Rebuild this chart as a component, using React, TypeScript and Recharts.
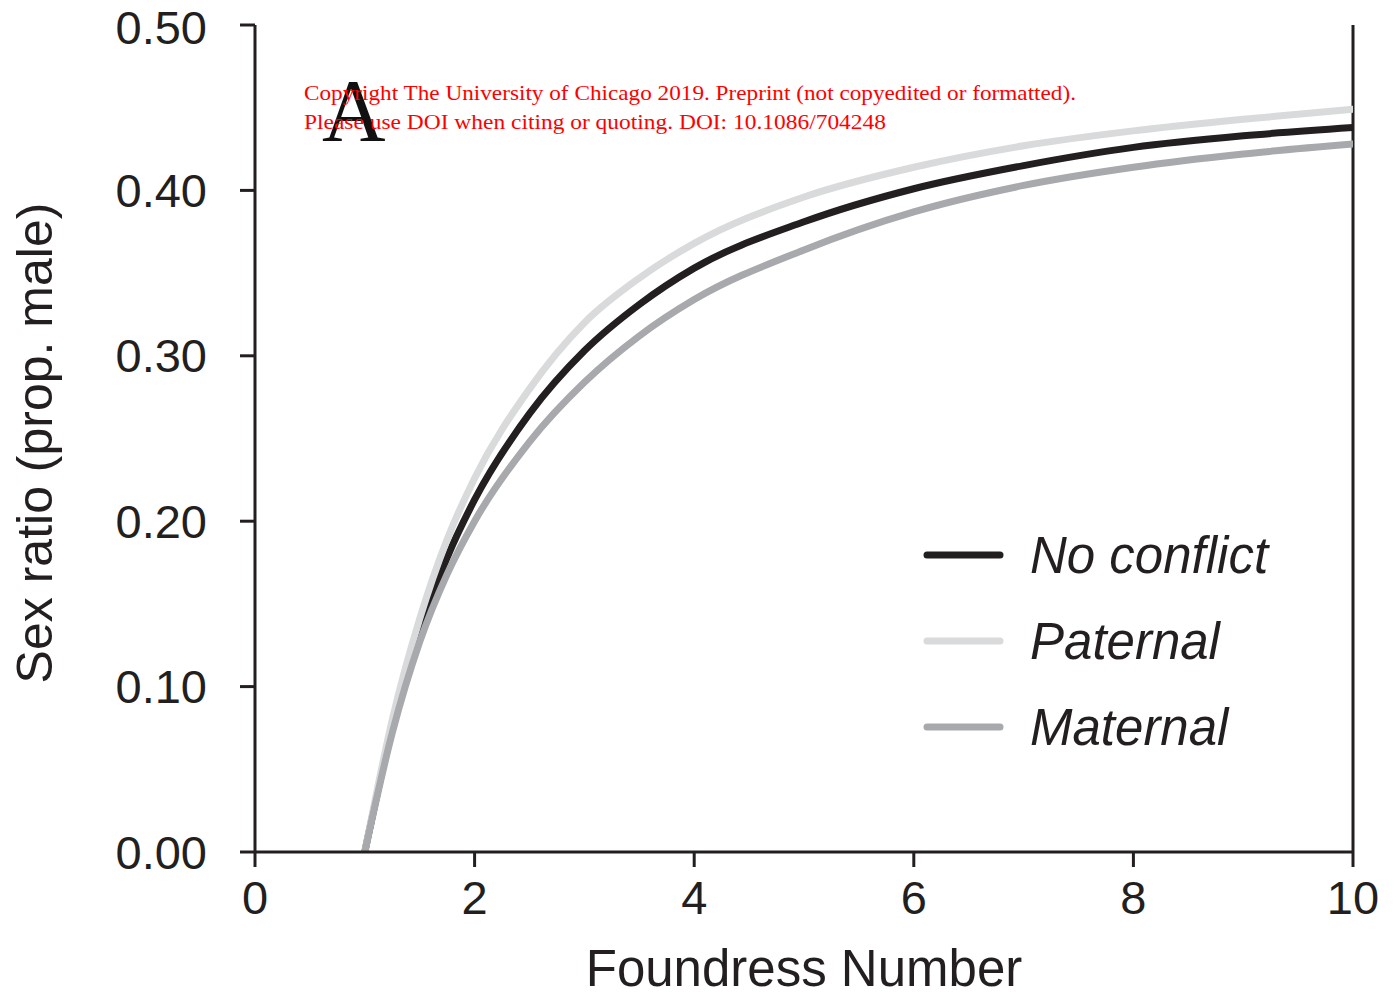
import React from 'react';
import {
  LineChart,
  Line,
  XAxis,
  YAxis,
  ReferenceLine,
  Customized,
} from 'recharts';

// foundress number (x) and the three sex-ratio curves
const foundress = [1, 1.25, 1.5, 1.75, 2, 2.5, 3, 3.5, 4, 5, 6, 7, 8, 9, 10];
const noConflict = [0, 0.075, 0.133, 0.178, 0.213, 0.265, 0.303, 0.331, 0.353, 0.381, 0.401, 0.415, 0.426, 0.433, 0.438];
const paternal = [0, 0.08, 0.141, 0.189, 0.226, 0.28, 0.32, 0.347, 0.368, 0.396, 0.414, 0.427, 0.436, 0.443, 0.449];
const maternal = [0, 0.072, 0.127, 0.168, 0.2, 0.248, 0.284, 0.312, 0.334, 0.364, 0.387, 0.403, 0.414, 0.422, 0.428];

const xTicks = [0, 2, 4, 6, 8, 10];
const yTicks = [0, 0.1, 0.2, 0.3, 0.4, 0.5];

const series = [
  { key: 'noConflict', name: 'No conflict', color: '#231f20' },
  { key: 'paternal', name: 'Paternal', color: '#d9dadb' },
  { key: 'maternal', name: 'Maternal', color: '#a7a9ac' },
];

const data = foundress.map((n, i) => ({
  n,
  noConflict: noConflict[i],
  paternal: paternal[i],
  maternal: maternal[i],
}));

const AXIS = '#231f20';
const SANS = 'Arial, "Liberation Sans", Helvetica, sans-serif';
const SERIF = '"Times New Roman", "Liberation Serif", serif';

function Overlay() {
  return (
    <g>
      {/* legend */}
      {series.map((s, i) => (
        <g key={s.key}>
          <line
            x1={927}
            x2={1000}
            y1={555 + i * 86}
            y2={555 + i * 86}
            stroke={s.color}
            strokeWidth={7}
            strokeLinecap="round"
          />
          <text
            x={1030}
            y={573 + i * 86}
            fontFamily={SANS}
            fontStyle="italic"
            fontSize={51}
            fill={AXIS}
          >
            {s.name}
          </text>
        </g>
      ))}
      <text x={322} y={140} fontFamily={SERIF} fontSize={88} fill="#111">A</text>
      <text x={304} y={100} fontFamily={SERIF} fontSize={21} fill="#ff0000" textLength={772} lengthAdjust="spacingAndGlyphs">
        Copyright The University of Chicago 2019. Preprint (not copyedited or formatted).
      </text>
      <text x={304} y={129} fontFamily={SERIF} fontSize={21} fill="#ff0000" textLength={582} lengthAdjust="spacingAndGlyphs">
        Please use DOI when citing or quoting. DOI: 10.1086/704248
      </text>
      <text x={804} y={986} textAnchor="middle" fontFamily={SANS} fontSize={51} fill={AXIS}>
        Foundress Number
      </text>
      <text
        x={0}
        y={0}
        transform="translate(52, 443) rotate(-90)"
        textAnchor="middle"
        fontFamily={SANS}
        fontSize={50}
        fill={AXIS}
      >
        Sex ratio (prop. male)
      </text>
    </g>
  );
}

export default function App() {
  return (
    <div style={{ position: 'absolute', left: 0, top: 0, background: '#fff' }}>
      <LineChart
        width={1397}
        height={997}
        data={data}
        margin={{ top: 25, right: 44, left: 0, bottom: 0 }}
      >
        <XAxis
          dataKey="n"
          type="number"
          domain={[0, 10]}
          ticks={xTicks}
          height={145}
          tickSize={15}
          tickMargin={14}
          stroke={AXIS}
          strokeWidth={3}
          tick={{ fontSize: 47, fontFamily: SANS, fill: AXIS }}
          allowDataOverflow
        />
        <YAxis
          type="number"
          domain={[0, 0.5]}
          ticks={yTicks}
          width={255}
          tickSize={15}
          tickMargin={33}
          stroke={AXIS}
          strokeWidth={3}
          tick={{ fontSize: 47, fontFamily: SANS, fill: AXIS }}
          tickFormatter={(v: number) => v.toFixed(2)}
          allowDataOverflow
        />
        <ReferenceLine x={10} stroke={AXIS} strokeWidth={3} />
        {series.map((s) => (
          <Line
            key={s.key}
            dataKey={s.key}
            name={s.name}
            type="monotone"
            stroke={s.color}
            strokeWidth={7}
            strokeLinecap="round"
            dot={false}
            activeDot={false}
            isAnimationActive={false}
          />
        ))}
        <Customized component={Overlay} />
      </LineChart>
    </div>
  );
}
